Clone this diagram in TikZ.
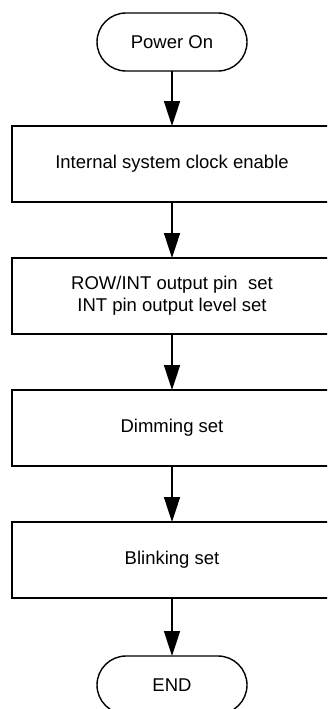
\documentclass[tikz,border=0pt]{standalone}
\usepackage{fontspec}
\setmainfont{Liberation Sans}
\usetikzlibrary{arrows.meta, positioning}
\tikzset{
  every picture/.style={font=\fontsize{18.5}{22}\selectfont, line width=1.4pt},
  stepbox/.style={draw=black, rectangle, align=center, inner sep=0pt, outer sep=0pt,
    minimum width=320pt, minimum height=76pt, line width=1.8pt},
  terminal/.style={draw=black, rectangle, rounded corners=29pt, align=center, inner sep=0pt,
    outer sep=0pt, minimum width=150pt, minimum height=58pt},
  arrow/.style={-{Triangle[length=25pt, width=16pt]}, draw=black, line width=1.6pt},
}

\begin{document}
\begin{tikzpicture}[x=1pt, y=1pt, node distance=56pt]
  \useasboundingbox (0,0) rectangle (327,-709);
  \clip (0,0) rectangle (327,-709);
  \node[terminal] (power) at (172,-42) {Power On};
  \node[stepbox, below=55pt of power] (clock) {Internal system clock enable};
  \node[stepbox, below=of clock] (pins) {ROW/INT output pin\ \ set\\INT pin output level set};
  \node[stepbox, below=of pins] (dim) {Dimming set};
  \node[stepbox, below=of dim] (blink) {Blinking set};
  \node[terminal, below=58pt of blink] (end) {END};
  \draw[arrow] (power) -- (clock);
  \draw[arrow] (clock) -- (pins);
  \draw[arrow] (pins) -- (dim);
  \draw[arrow] (dim) -- (blink);
  \draw[arrow] (blink) -- (end);
\end{tikzpicture}
\end{document}
